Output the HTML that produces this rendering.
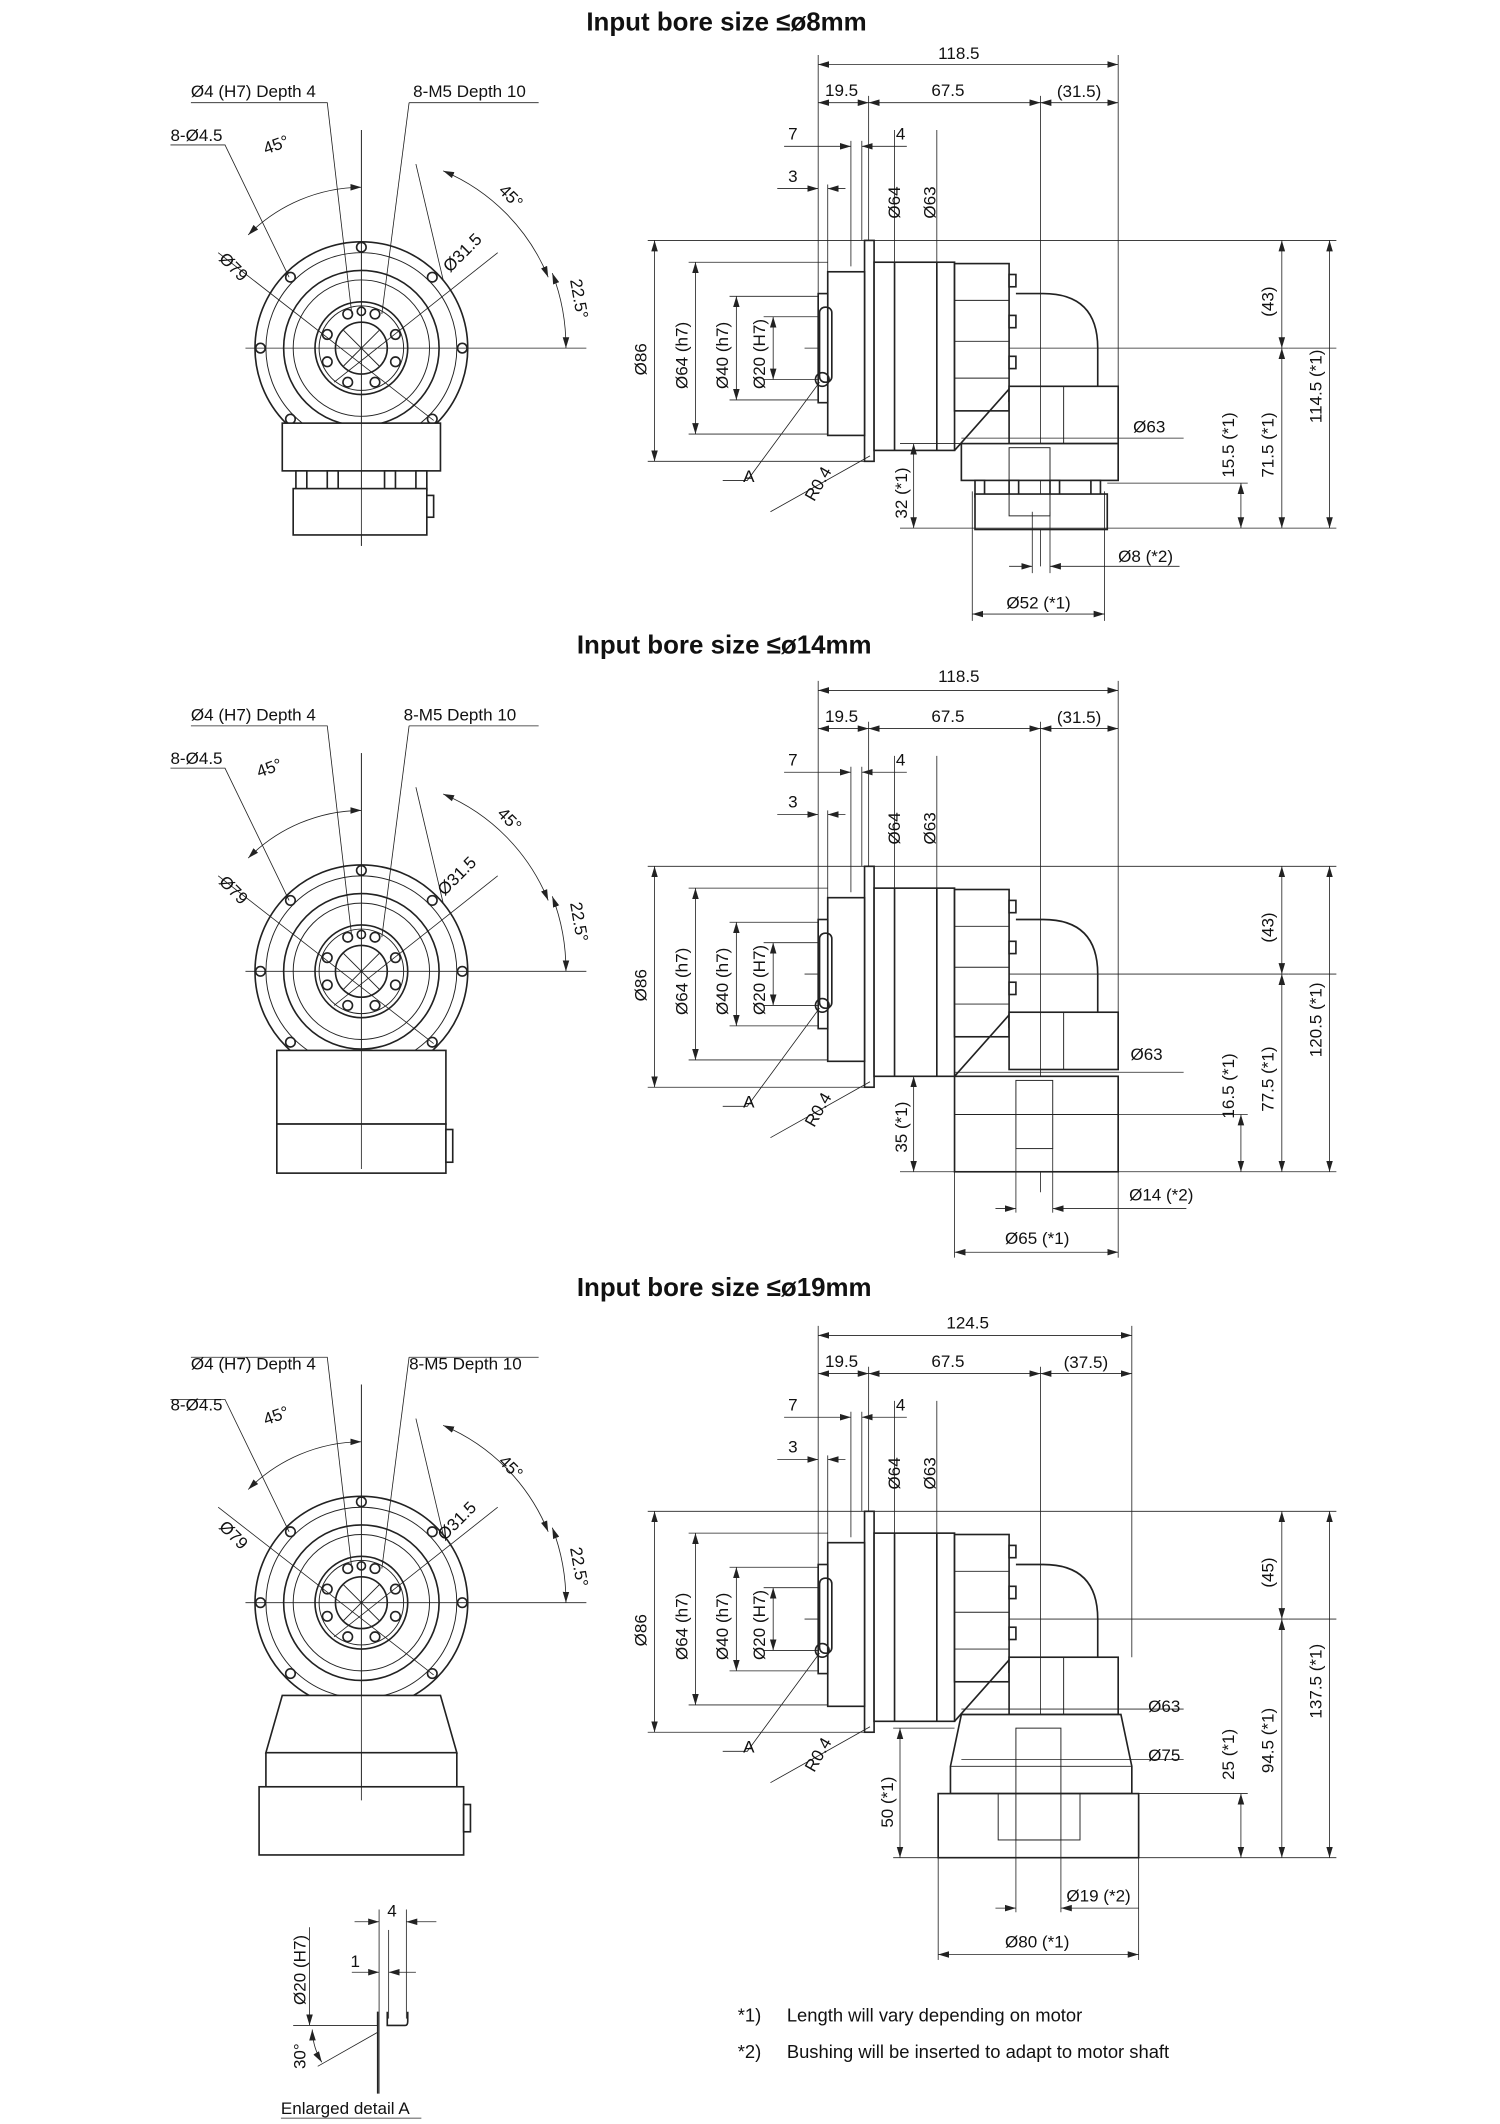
<!DOCTYPE html>
<html><head><meta charset="utf-8"><style>
html,body{margin:0;padding:0;background:#fff;}
svg{display:block;}
text{font-family:"Liberation Sans",sans-serif;font-size:12.5px;fill:#111;}
.t{font-size:19px;font-weight:bold;}
.s{stroke:#222;fill:none;stroke-width:1.2;}
.th{stroke:#222;fill:none;stroke-width:0.7;}
.d{stroke:#222;fill:none;stroke-width:0.6;}
.w{stroke:#222;fill:#fff;stroke-width:1.2;}
</style></head><body>
<svg width="1500" height="2124" viewBox="0 0 1100 1557" xmlns="http://www.w3.org/2000/svg">
<defs>
<marker id="a" viewBox="0 0 10 6" refX="10" refY="3" markerWidth="8" markerHeight="5" orient="auto-start-reverse" markerUnits="userSpaceOnUse"><path d="M0,0L10,3L0,6z" fill="#222"/></marker>
<g id="front">
 <line class="d" x1="-85" y1="0" x2="165" y2="0"/>
 <line class="d" x1="0" y1="-160" x2="0" y2="145"/>
 <circle class="s" r="78"/><circle class="th" r="70"/><circle class="s" r="57"/><circle class="th" r="50"/>
 <circle class="s" r="34"/><circle class="th" r="31"/><circle class="s" r="19"/>
 <line class="th" x1="-13" y1="-13" x2="13" y2="13"/><line class="th" x1="-13" y1="13" x2="13" y2="-13"/>
 <g class="s">
 <circle cx="0" cy="-74" r="3.5"/><circle cx="52" cy="-52" r="3.5"/><circle cx="74" cy="0" r="3.5"/><circle cx="52" cy="52" r="3.5"/>
 <circle cx="0" cy="74" r="3.5"/><circle cx="-52" cy="52" r="3.5"/><circle cx="-74" cy="0" r="3.5"/><circle cx="-52" cy="-52" r="3.5"/>
 <circle cx="10" cy="-25" r="3.5"/><circle cx="25" cy="-10" r="3.5"/><circle cx="25" cy="10" r="3.5"/><circle cx="10" cy="25" r="3.5"/>
 <circle cx="-10" cy="25" r="3.5"/><circle cx="-25" cy="10" r="3.5"/><circle cx="-25" cy="-10" r="3.5"/><circle cx="-10" cy="-25" r="3.5"/>
 <circle cx="0" cy="-27" r="3"/>
 </g>
 <polyline class="d" points="-125,-180 -25,-180 -7,-25"/>
 <polyline class="d" points="35,-180 130,-180"/><line class="d" x1="35" y1="-180" x2="15" y2="-25"/>
 <polyline class="d" points="-140,-149 -100,-149 -53,-52"/>
 <path class="d" d="M0,-118 A118,118 0 0 0 -83,-83" marker-start="url(#a)" marker-end="url(#a)"/>
 <path class="d" d="M60,-130 A143,143 0 0 1 137,-52" marker-start="url(#a)" marker-end="url(#a)"/>
 <path class="d" d="M140,-55 A150,150 0 0 1 150,0" marker-start="url(#a)" marker-end="url(#a)"/>
 <line class="d" x1="-105" y1="-70" x2="53" y2="53"/>
 <line class="d" x1="100" y1="-70" x2="-20" y2="25"/>
 <line class="d" x1="40" y1="-135" x2="60" y2="-50"/>
</g>
<g id="side">
 <line class="d" x1="590" y1="0" x2="945" y2="0"/>
 <rect class="w" x="634" y="-79" width="7" height="162"/>
 <rect class="w" x="607" y="-56" width="27" height="120"/>
 <rect class="w" x="600" y="-40" width="7" height="80"/>
 <rect class="s" x="601" y="-30" width="9" height="55" rx="4"/>
 <circle class="s" cx="603" cy="23" r="5"/>
 <rect class="w" x="641" y="-63" width="59" height="138"/>
 <line class="s" x1="656" y1="-63" x2="656" y2="75"/><line class="s" x1="687" y1="-63" x2="687" y2="75"/>
 <rect class="w" x="700" y="-62" width="40" height="108"/>
 <line class="th" x1="700" y1="-35" x2="740" y2="-35"/><line class="th" x1="700" y1="-5" x2="740" y2="-5"/><line class="th" x1="700" y1="22" x2="740" y2="22"/>
 <g class="w"><rect x="740" y="-54" width="5" height="9"/><rect x="740" y="-24" width="5" height="9"/><rect x="740" y="6" width="5" height="9"/><rect x="740" y="30" width="5" height="9"/></g>
 <path class="s" d="M745,-40 L765,-40 Q805,-40 805,0 L805,28"/>
 <path class="s" d="M700,75 L740,30"/>
 <rect class="w" x="740" y="28" width="80" height="42"/>
 <line class="th" x1="780" y1="28" x2="780" y2="70"/>
 <line class="d" x1="600" y1="-215" x2="600" y2="-40"/>
 <line class="d" x1="637" y1="-185" x2="637" y2="-79"/>
 <line class="d" x1="763" y1="-185" x2="763" y2="160"/>
 <line class="d" x1="600" y1="-180" x2="637" y2="-180" marker-start="url(#a)" marker-end="url(#a)"/>
 <line class="d" x1="637" y1="-180" x2="763" y2="-180" marker-start="url(#a)" marker-end="url(#a)"/>
 <line class="d" x1="575" y1="-148" x2="624" y2="-148" marker-end="url(#a)"/>
 <line class="d" x1="665" y1="-148" x2="632" y2="-148" marker-end="url(#a)"/>
 <line class="d" x1="624" y1="-152" x2="624" y2="-60"/><line class="d" x1="632" y1="-152" x2="632" y2="-79"/>
 <line class="d" x1="570" y1="-117" x2="600" y2="-117" marker-end="url(#a)"/>
 <line class="d" x1="620" y1="-117" x2="607" y2="-117" marker-end="url(#a)"/>
 <line class="d" x1="607" y1="-120" x2="607" y2="-56"/>
 <line class="d" x1="656" y1="-160" x2="656" y2="-63"/><line class="d" x1="687" y1="-160" x2="687" y2="-63"/>
 <line class="d" x1="475" y1="-79" x2="980" y2="-79"/>
 <line class="d" x1="505" y1="-63" x2="607" y2="-63"/>
 <line class="d" x1="535" y1="-38" x2="600" y2="-38"/>
 <line class="d" x1="560" y1="-23" x2="600" y2="-23"/>
 <line class="d" x1="560" y1="23" x2="600" y2="23"/>
 <line class="d" x1="535" y1="38" x2="600" y2="38"/>
 <line class="d" x1="505" y1="63" x2="607" y2="63"/>
 <line class="d" x1="475" y1="83" x2="634" y2="83"/>
 <line class="d" x1="480" y1="-79" x2="480" y2="83" marker-start="url(#a)" marker-end="url(#a)"/>
 <line class="d" x1="510" y1="-63" x2="510" y2="63" marker-start="url(#a)" marker-end="url(#a)"/>
 <line class="d" x1="540" y1="-38" x2="540" y2="38" marker-start="url(#a)" marker-end="url(#a)"/>
 <line class="d" x1="567" y1="-23" x2="567" y2="23" marker-start="url(#a)" marker-end="url(#a)"/>
 <line class="d" x1="940" y1="-79" x2="940" y2="0" marker-start="url(#a)" marker-end="url(#a)"/>
 <line class="d" x1="945" y1="0" x2="980" y2="0"/>
 <polyline class="d" points="530,97 548,97 601,25"/>
 <line class="d" x1="565" y1="120" x2="638" y2="79"/>
 <text transform="translate(474,20) rotate(-90)">Ø86</text>
 <text transform="translate(504,30) rotate(-90)">Ø64 (h7)</text>
 <text transform="translate(534,30) rotate(-90)">Ø40 (h7)</text>
 <text transform="translate(561,30) rotate(-90)">Ø20 (H7)</text>
 <text transform="translate(660,-95) rotate(-90)">Ø64</text>
 <text transform="translate(686,-95) rotate(-90)">Ø63</text>
 <text x="578" y="-153">7</text><text x="657" y="-153">4</text><text x="578" y="-122">3</text>
 <text x="605" y="-185">19.5</text><text x="683" y="-185">67.5</text>
 <text x="545" y="98">A</text>
 <text transform="translate(597,113) rotate(-60)">R0.4</text>
</g>
</defs>

<!-- Section 1 -->
<text class="t" x="430" y="22">Input bore size ≤ø8mm</text>
<g transform="translate(265,255)"><use href="#front"/>
 <rect class="w" x="-58" y="55" width="116" height="35"/>
 <g class="w"><rect x="-48" y="90" width="8" height="14"/><rect x="-25" y="90" width="8" height="14"/><rect x="17" y="90" width="8" height="14"/><rect x="40" y="90" width="8" height="14"/></g>
 <rect class="w" x="-50" y="103" width="98" height="34"/><rect class="w" x="48" y="108" width="5" height="16"/>
 <line class="d" x1="0" y1="-160" x2="0" y2="145"/>
</g>
<text x="140" y="71">Ø4 (H7) Depth 4</text><text x="303" y="71">8-M5 Depth 10</text><text x="125" y="103">8-Ø4.5</text>
<text transform="translate(195,113) rotate(-20)">45°</text><text transform="translate(365,140) rotate(45)">45°</text>
<text transform="translate(418,205) rotate(80)">22.5°</text>
<text transform="translate(160,190) rotate(45)">Ø79</text><text transform="translate(330,200) rotate(-45)">Ø31.5</text>
<g transform="translate(0,255)"><use href="#side"/>
 <text transform="translate(934,-23) rotate(-90)">(43)</text>
 <rect class="w" x="705" y="70" width="115" height="27"/>
 <g class="w"><rect x="715" y="97" width="7" height="12"/><rect x="740" y="97" width="7" height="12"/><rect x="770" y="97" width="7" height="12"/><rect x="800" y="97" width="7" height="12"/></g>
 <rect class="w" x="715" y="107" width="97" height="26"/>
 <rect class="th" x="740" y="73" width="30" height="50"/>
 <line class="d" x1="820" y1="-215" x2="820" y2="28"/>
 <line class="d" x1="600" y1="-208" x2="820" y2="-208" marker-start="url(#a)" marker-end="url(#a)"/>
 <line class="d" x1="763" y1="-180" x2="820" y2="-180" marker-start="url(#a)" marker-end="url(#a)"/>
 <line class="d" x1="705" y1="66" x2="868" y2="66"/>
 <line class="d" x1="660" y1="70" x2="705" y2="70"/>
 <line class="d" x1="812" y1="99" x2="915" y2="99"/>
 <line class="d" x1="660" y1="132" x2="980" y2="132"/>
 <line class="d" x1="975" y1="-79" x2="975" y2="132" marker-start="url(#a)" marker-end="url(#a)"/>
 <line class="d" x1="940" y1="0" x2="940" y2="132" marker-start="url(#a)" marker-end="url(#a)"/>
 <line class="d" x1="910" y1="99" x2="910" y2="132" marker-start="url(#a)" marker-end="url(#a)"/>
 <line class="d" x1="670" y1="70" x2="670" y2="132" marker-start="url(#a)" marker-end="url(#a)"/>
 <line class="d" x1="713" y1="105" x2="713" y2="200"/><line class="d" x1="810" y1="105" x2="810" y2="200"/>
 <line class="d" x1="757" y1="120" x2="757" y2="165"/><line class="d" x1="770" y1="120" x2="770" y2="165"/>
 <line class="d" x1="740" y1="160" x2="757" y2="160" marker-end="url(#a)"/>
 <line class="d" x1="865" y1="160" x2="770" y2="160" marker-end="url(#a)"/>
 <line class="d" x1="713" y1="195" x2="810" y2="195" marker-start="url(#a)" marker-end="url(#a)"/>
</g>
<text x="688" y="43">118.5</text><text x="775" y="71">(31.5)</text>
<text x="831" y="317">Ø63</text><text x="820" y="412">Ø8 (*2)</text><text x="738" y="446">Ø52 (*1)</text>
<text transform="translate(905,350) rotate(-90)">15.5 (*1)</text>
<text transform="translate(934,350) rotate(-90)">71.5 (*1)</text>
<text transform="translate(969,310) rotate(-90)">114.5 (*1)</text>
<text transform="translate(665,380) rotate(-90)">32 (*1)</text>

<!-- Section 2 -->
<text class="t" x="423" y="479">Input bore size ≤ø14mm</text>
<g transform="translate(265,712)"><use href="#front"/>
 <rect class="w" x="-62" y="58" width="124" height="54"/>
 <rect class="w" x="-62" y="112" width="124" height="36"/><rect class="w" x="62" y="116" width="5" height="24"/>
 <line class="d" x1="0" y1="-160" x2="0" y2="145"/>
</g>
<text x="140" y="528">Ø4 (H7) Depth 4</text><text x="296" y="528">8-M5 Depth 10</text><text x="125" y="560">8-Ø4.5</text>
<text transform="translate(190,570) rotate(-20)">45°</text><text transform="translate(364,597) rotate(45)">45°</text>
<text transform="translate(418,662) rotate(80)">22.5°</text>
<text transform="translate(160,647) rotate(45)">Ø79</text><text transform="translate(326,657) rotate(-45)">Ø31.5</text>
<g transform="translate(0,714)"><use href="#side"/>
 <text transform="translate(934,-23) rotate(-90)">(43)</text>
 <rect class="w" x="700" y="75" width="120" height="70"/>
 <line class="th" x1="700" y1="103" x2="820" y2="103"/>
 <rect class="th" x="745" y="78" width="27" height="50"/>
 <line class="d" x1="820" y1="-215" x2="820" y2="28"/>
 <line class="d" x1="600" y1="-208" x2="820" y2="-208" marker-start="url(#a)" marker-end="url(#a)"/>
 <line class="d" x1="763" y1="-180" x2="820" y2="-180" marker-start="url(#a)" marker-end="url(#a)"/>
 <line class="d" x1="700" y1="72" x2="868" y2="72"/>
 <line class="d" x1="660" y1="75" x2="700" y2="75"/>
 <line class="d" x1="820" y1="103" x2="915" y2="103"/>
 <line class="d" x1="660" y1="145" x2="980" y2="145"/>
 <line class="d" x1="975" y1="-79" x2="975" y2="145" marker-start="url(#a)" marker-end="url(#a)"/>
 <line class="d" x1="940" y1="0" x2="940" y2="145" marker-start="url(#a)" marker-end="url(#a)"/>
 <line class="d" x1="910" y1="103" x2="910" y2="145" marker-start="url(#a)" marker-end="url(#a)"/>
 <line class="d" x1="670" y1="75" x2="670" y2="145" marker-start="url(#a)" marker-end="url(#a)"/>
 <line class="d" x1="700" y1="145" x2="700" y2="208"/><line class="d" x1="820" y1="145" x2="820" y2="208"/>
 <line class="d" x1="745" y1="128" x2="745" y2="175"/><line class="d" x1="772" y1="128" x2="772" y2="175"/>
 <line class="d" x1="730" y1="172" x2="745" y2="172" marker-end="url(#a)"/>
 <line class="d" x1="870" y1="172" x2="772" y2="172" marker-end="url(#a)"/>
 <line class="d" x1="700" y1="204" x2="820" y2="204" marker-start="url(#a)" marker-end="url(#a)"/>
</g>
<text x="688" y="500">118.5</text><text x="775" y="530">(31.5)</text>
<text x="829" y="777">Ø63</text><text x="828" y="880">Ø14 (*2)</text><text x="737" y="912">Ø65 (*1)</text>
<text transform="translate(905,820) rotate(-90)">16.5 (*1)</text>
<text transform="translate(934,815) rotate(-90)">77.5 (*1)</text>
<text transform="translate(969,775) rotate(-90)">120.5 (*1)</text>
<text transform="translate(665,845) rotate(-90)">35 (*1)</text>

<!-- Section 3 -->
<text class="t" x="423" y="950">Input bore size ≤ø19mm</text>
<g transform="translate(265,1175)"><use href="#front"/>
 <path class="w" d="M-58,68 L58,68 L70,110 L-70,110 Z"/>
 <rect class="w" x="-75" y="135" width="150" height="50"/>
 <line class="s" x1="-70" y1="110" x2="-70" y2="135"/><line class="s" x1="70" y1="110" x2="70" y2="135"/>
 <rect class="w" x="75" y="148" width="5" height="20"/>
 <line class="d" x1="0" y1="-160" x2="0" y2="145"/>
</g>
<text x="140" y="1004">Ø4 (H7) Depth 4</text><text x="300" y="1004">8-M5 Depth 10</text><text x="125" y="1034">8-Ø4.5</text>
<text transform="translate(195,1045) rotate(-20)">45°</text><text transform="translate(365,1072) rotate(45)">45°</text>
<text transform="translate(418,1135) rotate(80)">22.5°</text>
<text transform="translate(160,1120) rotate(45)">Ø79</text><text transform="translate(326,1130) rotate(-45)">Ø31.5</text>
<g transform="translate(0,1187)"><use href="#side"/>
 <text transform="translate(934,-23) rotate(-90)">(45)</text>
 <path class="w" d="M705,70 L822,70 L830,108 L830,128 L697,128 L697,108 Z"/>
 <line class="th" x1="697" y1="108" x2="830" y2="108"/>
 <rect class="w" x="688" y="128" width="147" height="47"/>
 <rect class="th" x="745" y="80" width="33" height="82"/>
 <rect class="th" x="732" y="128" width="60" height="34"/>
 <line class="d" x1="830" y1="-215" x2="830" y2="28"/>
 <line class="d" x1="600" y1="-208" x2="830" y2="-208" marker-start="url(#a)" marker-end="url(#a)"/>
 <line class="d" x1="763" y1="-180" x2="830" y2="-180" marker-start="url(#a)" marker-end="url(#a)"/>
 <line class="d" x1="705" y1="66" x2="868" y2="66"/>
 <line class="d" x1="705" y1="103" x2="868" y2="103"/>
 <line class="d" x1="655" y1="80" x2="700" y2="80"/>
 <line class="d" x1="830" y1="128" x2="915" y2="128"/>
 <line class="d" x1="655" y1="175" x2="980" y2="175"/>
 <line class="d" x1="975" y1="-79" x2="975" y2="175" marker-start="url(#a)" marker-end="url(#a)"/>
 <line class="d" x1="940" y1="0" x2="940" y2="175" marker-start="url(#a)" marker-end="url(#a)"/>
 <line class="d" x1="910" y1="128" x2="910" y2="175" marker-start="url(#a)" marker-end="url(#a)"/>
 <line class="d" x1="660" y1="80" x2="660" y2="175" marker-start="url(#a)" marker-end="url(#a)"/>
 <line class="d" x1="688" y1="175" x2="688" y2="250"/><line class="d" x1="835" y1="175" x2="835" y2="250"/>
 <line class="d" x1="745" y1="162" x2="745" y2="215"/><line class="d" x1="778" y1="162" x2="778" y2="215"/>
 <line class="d" x1="730" y1="212" x2="745" y2="212" marker-end="url(#a)"/>
 <line class="d" x1="835" y1="212" x2="778" y2="212" marker-end="url(#a)"/>
 <line class="d" x1="688" y1="246" x2="835" y2="246" marker-start="url(#a)" marker-end="url(#a)"/>
</g>
<text x="694" y="974">124.5</text><text x="780" y="1003">(37.5)</text>
<text x="842" y="1255">Ø63</text><text x="842" y="1291">Ø75</text>
<text x="782" y="1394">Ø19 (*2)</text><text x="737" y="1428">Ø80 (*1)</text>
<text transform="translate(905,1305) rotate(-90)">25 (*1)</text>
<text transform="translate(934,1300) rotate(-90)">94.5 (*1)</text>
<text transform="translate(969,1260) rotate(-90)">137.5 (*1)</text>
<text transform="translate(655,1340) rotate(-90)">50 (*1)</text>

<!-- Detail A -->
<g>
 <line class="d" x1="227" y1="1413" x2="227" y2="1485" marker-end="url(#a)"/>
 <line class="d" x1="215" y1="1485" x2="277" y2="1485"/>
 <line class="d" x1="278" y1="1400" x2="278" y2="1535"/>
 <line class="d" x1="285" y1="1415" x2="285" y2="1480"/>
 <line class="d" x1="298" y1="1400" x2="298" y2="1480"/>
 <path class="s" stroke-width="1.8" d="M277,1475 L277,1485 M284,1475 L284,1485 L297,1485 Q299,1485 299,1482 L299,1475"/>
 <line class="s" stroke-width="1.8" x1="277" y1="1475" x2="277" y2="1535"/>
 <line class="d" x1="260" y1="1409" x2="278" y2="1409" marker-end="url(#a)"/>
 <line class="d" x1="320" y1="1409" x2="298" y2="1409" marker-end="url(#a)"/>
 <line class="d" x1="258" y1="1446" x2="278" y2="1446" marker-end="url(#a)"/>
 <line class="d" x1="305" y1="1446" x2="285" y2="1446" marker-end="url(#a)"/>
 <line class="d" x1="277" y1="1490" x2="233" y2="1515"/>
 <path class="d" d="M229,1488 A48,48 0 0 0 236,1512" marker-start="url(#a)" marker-end="url(#a)"/>
 <text x="284" y="1405">4</text><text x="257" y="1442">1</text>
 <text transform="translate(224,1470) rotate(-90)">Ø20 (H7)</text>
 <text transform="translate(224,1517) rotate(-90)">30°</text>
 <text x="206" y="1550">Enlarged detail A</text>
 <line class="d" x1="206" y1="1553" x2="309" y2="1553"/>
</g>
<text x="541" y="1482" style="font-size:13.5px">*1)</text><text x="577" y="1482" style="font-size:13.5px">Length will vary depending on motor</text>
<text x="541" y="1509" style="font-size:13.5px">*2)</text><text x="577" y="1509" style="font-size:13.5px">Bushing will be inserted to adapt to motor shaft</text>
</svg>
</body></html>
